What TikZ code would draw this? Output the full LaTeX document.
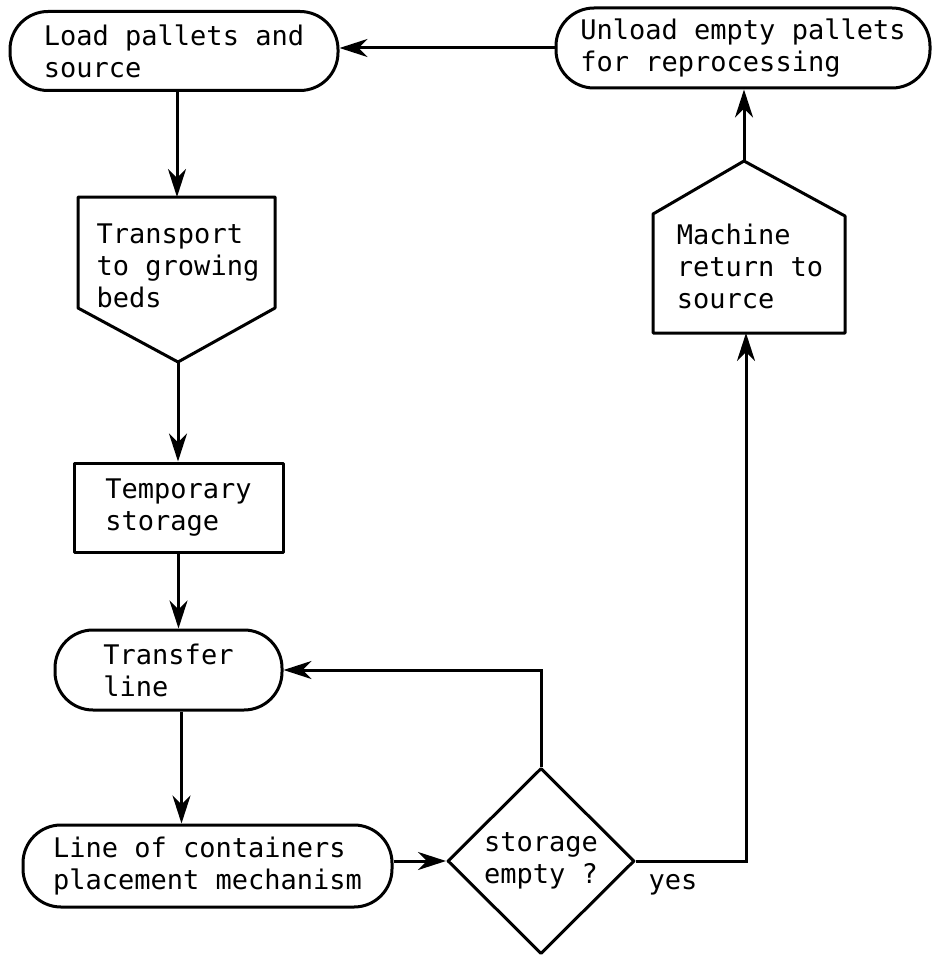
\documentclass[tikz,border=0pt]{standalone}
\usepackage{fontspec}
\newfontfamily\tw{DejaVu Sans Mono}
\usetikzlibrary{arrows.meta,shapes.geometric}
\begin{document}
\begin{tikzpicture}[x=1pt,y=-1pt,
  every node/.style={font=\tw\fontsize{27}{32}\selectfont, align=left, inner sep=0pt},
  outl/.style={draw, line width=3pt, line join=round},
  term/.style={outl, rectangle, rounded corners=38pt},
  boxs/.style={outl, rectangle},
  dec/.style={outl, diamond},
  arr/.style={line width=3pt, -{Stealth[length=28pt,width=18pt,inset=9pt]}},
  ln/.style={line width=3pt}]
\useasboundingbox (0,0) rectangle (935,955);
% nodes
\node[term, minimum width=328pt, minimum height=79pt] (load) at (174,51) {Load pallets and\\source};
\node[term, minimum width=374pt, minimum height=80pt] (unload) at (743,48) {Unload empty pallets\\for reprocessing};
% transport pentagon
\coordinate (tTop) at (177,197);
\coordinate (tApex) at (178,362);
\draw[outl] (78,197) -- (275,197) -- (275,308) -- (tApex) -- (78,308) -- cycle;
\node (trans) at (178,266) {Transport\\to growing\\beds};
\node[boxs, minimum width=209pt, minimum height=89pt] (temp) at (178.5,507.5) {Temporary\\storage};
\node[term, minimum width=227pt, minimum height=80pt] (transfer) at (168.5,670) {Transfer\\line};
\node[term, minimum width=369pt, minimum height=82pt] (linec) at (207.5,866) {Line of containers\\placement mechanism};
\node[dec, minimum width=187pt, minimum height=186pt] (dec) at (541,861) {storage\\empty ?};
\node (yes) at (673,885) {yes};
% machine pentagon
\coordinate (mApex) at (744,161);
\coordinate (mBottom) at (746,333);
\draw[outl] (653,333) -- (653,214) -- (mApex) -- (845,216) -- (845,333) -- cycle;
\node (mach) at (750,266) {Machine\\return to\\source};
% connectors
\draw[arr] (unload.west) -- (unload.west -| load.east);
\draw[arr] (load.south -| tTop) -- (tTop);
\draw[arr] (tApex) -- (tApex |- temp.north);
\draw[arr] (temp.south) -- (temp.south |- transfer.north);
\draw[arr] ([xshift=13pt]transfer.south) -- ([xshift=13pt]transfer.south |- linec.north);
\draw[arr] (linec.east |- dec.west) -- (dec.west);
\draw[arr] (dec.north) -- (dec.north |- transfer.east) -- (transfer.east);
\draw[arr] (dec.east) -| (mBottom);
\draw[arr] (mApex) -- (mApex |- unload.south);
\end{tikzpicture}
\end{document}
